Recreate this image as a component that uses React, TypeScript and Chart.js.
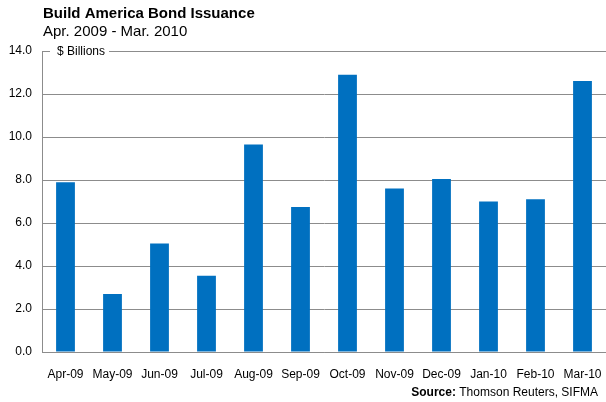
import React, { useEffect, useRef } from "react";
import { Chart, registerables } from "chart.js";

Chart.register(...registerables);

const categories = ["Apr-09", "May-09", "Jun-09", "Jul-09", "Aug-09", "Sep-09", "Oct-09", "Nov-09", "Dec-09", "Jan-10", "Feb-10", "Mar-10"];
const issuance = [7.9, 2.7, 5.05, 3.55, 9.65, 6.75, 12.9, 7.6, 8.05, 7.0, 7.1, 12.6];
const titleText = "Build America Bond Issuance";
const subtitleText = "Apr. 2009 - Mar. 2010";
const unitLabel = "$ Billions";
const sourceBold = "Source:";
const sourceText = " Thomson Reuters, SIFMA";

const FONT = "'Liberation Sans', Arial, Helvetica, sans-serif";
const GRID = "#8c8c8c";
const BAR = "#0070c0";

const textPlugin = {
  id: "textPlugin",
  afterDraw(chart: any) {
    const ctx = chart.ctx;
    const area = chart.chartArea;
    const yScale = chart.scales.y;
    ctx.save();
    ctx.textBaseline = "alphabetic";
    ctx.textAlign = "left";
    ctx.fillStyle = "#000";
    ctx.font = `bold 15px ${FONT}`;
    ctx.fillText(titleText, 43, 18);
    ctx.font = `15px ${FONT}`;
    ctx.fillText(subtitleText, 43, 36);

    // top gridline with unit label gap
    const yTop = Math.round(yScale.getPixelForValue(14)) + 0.5;
    ctx.font = `12px ${FONT}`;
    ctx.textBaseline = "middle";
    ctx.fillStyle = "#000";
    const tx = 57;
    const tw = ctx.measureText(unitLabel).width;
    ctx.fillText(unitLabel, tx, yTop);
    ctx.strokeStyle = GRID;
    ctx.lineWidth = 1;
    ctx.beginPath();
    ctx.moveTo(area.left, yTop);
    ctx.lineTo(tx - 7, yTop);
    ctx.moveTo(tx + tw + 4, yTop);
    ctx.lineTo(area.right, yTop);
    ctx.stroke();

    // source
    ctx.textBaseline = "alphabetic";
    ctx.font = `12px ${FONT}`;
    const w2 = ctx.measureText(sourceText).width;
    ctx.font = `bold 12px ${FONT}`;
    const w1 = ctx.measureText(sourceBold).width;
    const right = 598;
    const x0 = right - w1 - w2;
    ctx.fillText(sourceBold, x0, 396);
    ctx.font = `12px ${FONT}`;
    ctx.fillText(sourceText, x0 + w1, 396);
    ctx.restore();
  },
};

export default function App() {
  const ref = useRef<HTMLCanvasElement | null>(null);
  useEffect(() => {
    document.body.style.margin = "0";
    const chart = new Chart(ref.current as HTMLCanvasElement, {
      type: "bar",
      data: {
        labels: categories,
        datasets: [
          {
            data: issuance,
            backgroundColor: BAR,
            borderWidth: 0,
            barPercentage: 0.4,
            categoryPercentage: 1,
          },
        ],
      },
      options: {
        animation: false,
        responsive: false,
        maintainAspectRatio: false,
        layout: { padding: { top: 51, right: 0, left: 0, bottom: 0 } },
        plugins: { legend: { display: false }, tooltip: { enabled: false }, title: { display: false } },
        scales: {
          x: {
            grid: { display: false, drawTicks: true, tickLength: 15 },
            border: { display: true, color: GRID, width: 1 },
            ticks: { color: "#000", font: { family: FONT, size: 12 }, padding: 0, maxRotation: 0, autoSkip: false },
            afterFit(scale: any) {
              scale.height = 50;
            },
          },
          y: {
            min: 0,
            max: 14,
            grid: {
              drawTicks: false,
              color: (c: any) => (c.tick && c.tick.value === 14 ? "rgba(0,0,0,0)" : GRID),
              lineWidth: 1,
            },
            border: { display: true, color: GRID, width: 1 },
            ticks: {
              stepSize: 2,
              color: "#000",
              font: { family: FONT, size: 12 },
              padding: 10,
              callback: (v: any) => Number(v).toFixed(1),
            },
            afterFit(scale: any) {
              scale.width = 42;
            },
          },
        },
      },
      plugins: [textPlugin],
    });
    return () => chart.destroy();
  }, []);
  return (
    <div style={{ width: 606, height: 402, background: "#fff" }}>
      <canvas ref={ref} width={606} height={402} style={{ display: "block" }} />
    </div>
  );
}
